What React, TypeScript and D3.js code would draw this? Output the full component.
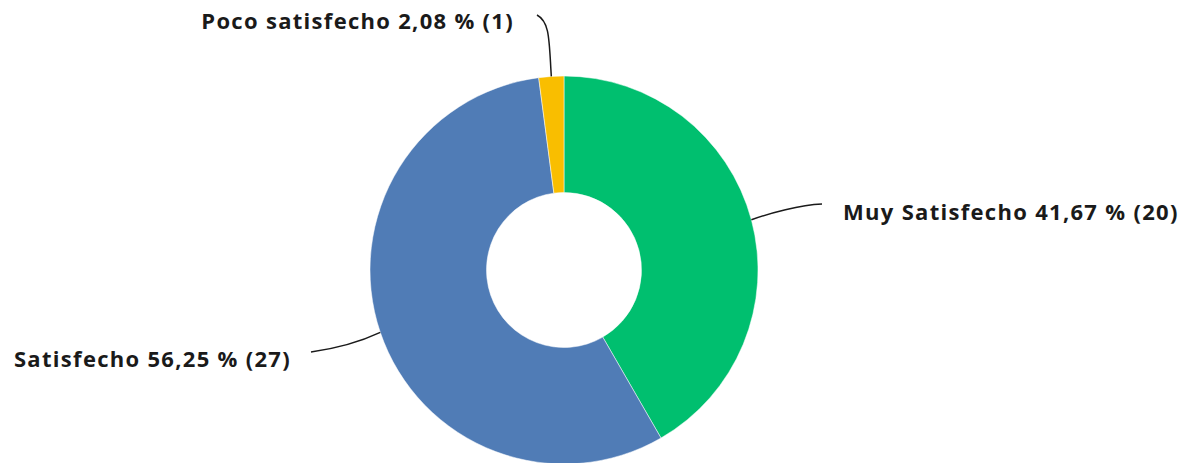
import React, { useEffect, useRef } from 'react';
import * as d3 from 'd3';

const categories = ['Muy Satisfecho', 'Satisfecho', 'Poco satisfecho'];
const counts = [20, 27, 1];
const percentLabels = ['41,67 %', '56,25 %', '2,08 %'];
const colours = ['#00bf6f', '#507cb6', '#f9be00'];

const App = () => {
  const ref = useRef<SVGSVGElement>(null);
  const width = 1184;
  const height = 463;
  const cx = 564;
  const cy = 270;
  const outerR = 194;
  const innerR = 77.5;

  useEffect(() => {
    const svg = d3.select(ref.current);
    svg.selectAll('*').remove();

    const data = categories.map((c, i) => ({ name: c, value: counts[i], pct: percentLabels[i], colour: colours[i] }));

    const pie = d3.pie<any>().value(d => d.value).sort(null);
    const arcs = pie(data);
    const arc = d3.arc<any>().innerRadius(innerR).outerRadius(outerR);

    const g = svg.append('g').attr('transform', `translate(${cx}, ${cy})`);

    g.selectAll('path.slice')
      .data(arcs)
      .enter()
      .append('path')
      .attr('class', 'slice')
      .attr('d', arc)
      .attr('fill', d => d.data.colour)
      .attr('stroke', '#ffffff')
      .attr('stroke-width', 0.5);

    // leader lines: start on the outer edge at the slice's mid angle
    const leaders = [
      { end: [258, -66], c1: [206, -57], c2: [236, -65], anchor: 'start', tx: 279, ty: -50 },
      { end: [-253, 82], c1: [-200, 70], c2: [-225, 78], anchor: 'end', tx: -273, ty: 97 },
      { end: [-27, -255], c1: [-15, -230], c2: [-14, -248], anchor: 'end', tx: -50, ty: -241 },
    ];

    arcs.forEach((a, i) => {
      const mid = (a.startAngle + a.endAngle) / 2;
      const sx = outerR * Math.sin(mid);
      const sy = -outerR * Math.cos(mid);
      const l = leaders[i];
      g.append('path')
        .attr('d', `M${sx},${sy} C${l.c1[0]},${l.c1[1]} ${l.c2[0]},${l.c2[1]} ${l.end[0]},${l.end[1]}`)
        .attr('fill', 'none')
        .attr('stroke', '#1a1a1a')
        .attr('stroke-width', 1.5);

      g.append('text')
        .attr('x', l.tx)
        .attr('y', l.ty)
        .attr('text-anchor', l.anchor)
        .attr('font-family', '"Open Sans", sans-serif')
        .attr('font-weight', 700)
        .attr('font-size', 22)
        .attr('letter-spacing', 1.3)
        .attr('fill', '#1a1a1a')
        .text(`${a.data.name} ${a.data.pct} (${a.data.value})`);
    });
  });

  return (
    <svg
      ref={ref}
      width={width}
      height={height}
      style={{ position: 'absolute', left: 0, top: 0, background: '#ffffff' }}
    />
  );
};

export default App;
